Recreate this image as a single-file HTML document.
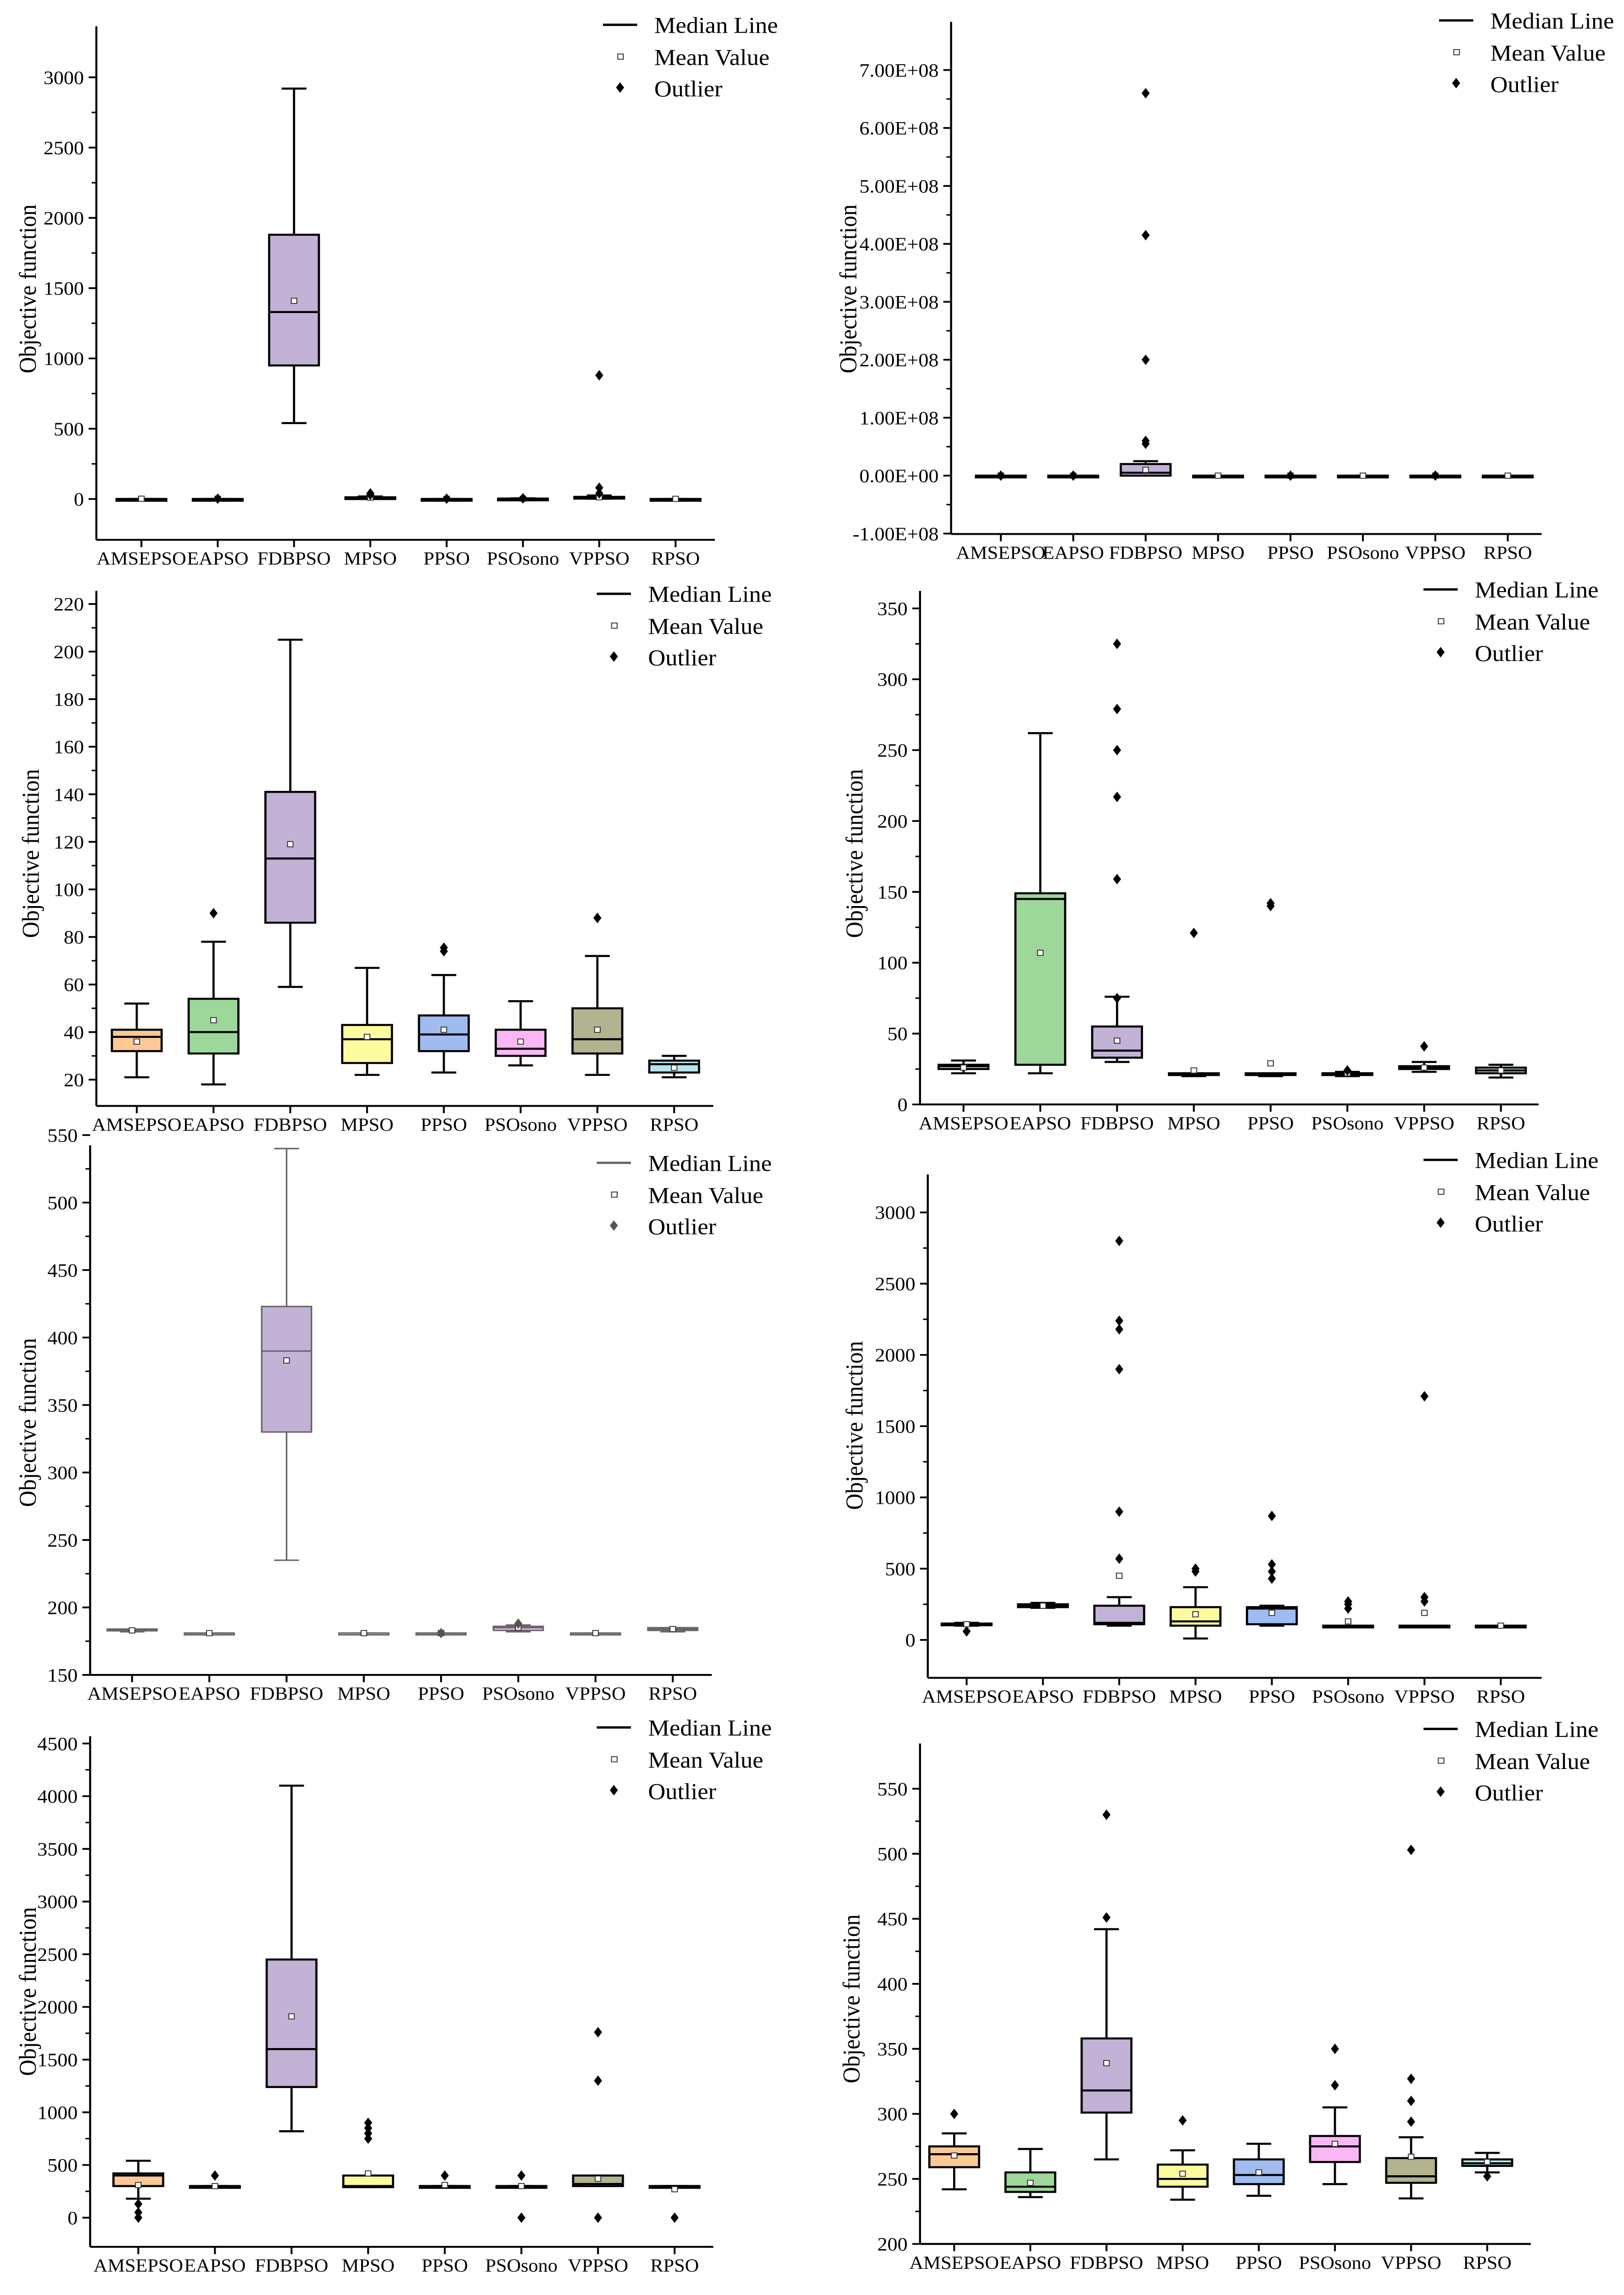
<!DOCTYPE html>
<html><head><meta charset="utf-8"><style>
html,body{margin:0;padding:0;background:#fff;width:100%;height:100%;overflow:hidden}
svg{display:block;width:100vw;height:100vh}
text{font-family:"Liberation Serif",serif;fill:#000}
</style></head><body>
<svg id="fig" xmlns="http://www.w3.org/2000/svg" viewBox="0 0 1045 1573" preserveAspectRatio="none"></svg>
<script>
const categories=["AMSEPSO","EAPSO","FDBPSO","MPSO","PPSO","PSOsono","VPPSO","RPSO"];
const colors=["#fbc896","#9dd89a","#c2b2d6","#fdfb9e","#9fbbf0","#fbb6f6","#b3b48f","#b8e4ea"];
// Panel 1
const p1_stats=[[0,0,0,0,0],[0,0,0,0,0],[540,950,1330,1880,2920],[2,5,8,12,18],[0,0,0,0,0],[0,1,2,3,5],[2,6,10,15,25],[0,0,0,0,0]];
const p1_means=[2,2,1410,10,1,2,12,1];
const p1_outliers=[[],[2],[],[30,40],[2],[5],[40,80,880],[]];
const p1_ticks=[0,500,1000,1500,2000,2500,3000];
const p1_labels=["0","500","1000","1500","2000","2500","3000"];
// Panel 2
const p2_stats=[[0,0,0,0,0],[0,0,0,0,0],[0,0,5e6,2e7,2.5e7],[0,0,0,0,0],[0,0,0,0,0],[0,0,0,0,0],[0,0,0,0,0],[0,0,0,0,0]];
const p2_means=[0,0,1e7,0,0,0,0,0];
const p2_outliers=[[0],[0],[5.5e7,6e7,2e8,4.15e8,6.6e8],[],[0],[],[0],[]];
const p2_ticks=[-1e8,0,1e8,2e8,3e8,4e8,5e8,6e8,7e8];
const p2_labels=["-1.00E+08","0.00E+00","1.00E+08","2.00E+08","3.00E+08","4.00E+08","5.00E+08","6.00E+08","7.00E+08"];
// Panel 3
const p3_stats=[[21,32,38,41,52],[18,31,40,54,78],[59,86,113,141,205],[22,27,37,43,67],[23,32,39,47,64],[26,30,33,41,53],[22,31,37,50,72],[21,23,26.5,28,30]];
const p3_means=[36,45,119,38,41,36,41,25];
const p3_outliers=[[],[90],[],[],[74,75.5],[],[88],[]];
const p3_ticks=[20,40,60,80,100,120,140,160,180,200,220];
const p3_labels=["20","40","60","80","100","120","140","160","180","200","220"];
// Panel 4
const p4_stats=[[22,25,27,28,31],[22,28,145,149,262],[30,33,38,55,76],[20,21,21,22,22],[20,21,21,22,22],[20,21,22,22,23],[23,25,26,27,30],[19,22,24,26,28]];
const p4_means=[26,107,45,24,29,22,26,24];
const p4_outliers=[[],[],[75,159,217,250,279,325],[121],[140,142],[24],[41],[]];
const p4_ticks=[0,50,100,150,200,250,300,350];
const p4_labels=["0","50","100","150","200","250","300","350"];
// Panel 5
const p5_stats=[[182,183,183,184,184],[180,180,181,181,181],[235,330,390,423,540],[180,180,181,181,181],[180,180,181,181,181],[182,183,185,186,187],[180,180,181,181,181],[182,183,184,185,185]];
const p5_means=[183,181,383,181,181,185,181,184];
const p5_outliers=[[],[],[],[],[181],[188],[],[]];
const p5_ticks=[150,200,250,300,350,400,450,500,550];
const p5_labels=["150","200","250","300","350","400","450","500","550"];
// Panel 6
const p6_stats=[[100,105,110,115,120],[225,230,240,250,260],[100,110,120,240,300],[10,100,130,230,370],[100,110,220,230,240],[100,100,100,100,100],[100,100,100,100,100],[100,100,100,100,100]];
const p6_means=[110,240,450,180,190,130,190,100];
const p6_outliers=[[60],[],[570,900,1900,2180,2240,2800],[480,500],[430,480,530,870],[220,250,270],[270,300,1710],[]];
const p6_ticks=[0,500,1000,1500,2000,2500,3000];
const p6_labels=["0","500","1000","1500","2000","2500","3000"];
// Panel 7
const p7_stats=[[180,300,400,420,540],[300,300,300,300,300],[820,1240,1600,2450,4100],[290,290,300,400,400],[300,300,300,300,300],[300,300,300,300,300],[300,300,320,400,400],[300,300,300,300,300]];
const p7_means=[310,300,1910,420,310,300,370,270];
const p7_outliers=[[0,50,130],[400],[],[750,800,850,900],[400],[0,400],[0,1300,1760],[0]];
const p7_ticks=[0,500,1000,1500,2000,2500,3000,3500,4000,4500];
const p7_labels=["0","500","1000","1500","2000","2500","3000","3500","4000","4500"];
// Panel 8
const p8_stats=[[242,259,269,275,285],[236,240,244,255,273],[265,301,318,358,442],[234,244,250,261,272],[237,246,253,265,277],[246,263,275,283,305],[235,247,252,266,282],[255,260,262,265,270]];
const p8_means=[268,247,339,254,255,277,267,263];
const p8_outliers=[[300],[],[451,530],[295],[],[322,350],[294,310,327,503],[252]];
const p8_ticks=[200,250,300,350,400,450,500,550];
const p8_labels=["200","250","300","350","400","450","500","550"];

const NS="http://www.w3.org/2000/svg";
const fig=document.getElementById('fig');
function mk(tag,attrs,parent,txt){const e=document.createElementNS(NS,tag);for(const k in attrs)e.setAttribute(k,attrs[k]);if(txt!==undefined)e.textContent=txt;parent.appendChild(e);return e;}

const panels=[
 {id:1,stats:p1_stats,means:p1_means,out:p1_outliers,ticks:p1_ticks,labels:p1_labels,ax:62,xEnd:460,yTop:18,yBot:370,v0:0,y0:342,v1:3000,y1:53,x0:91,step:49.1,lx:388,ly:17,ylx:18,yly:198,gray:false},
 {id:2,stats:p2_stats,means:p2_means,out:p2_outliers,ticks:p2_ticks,labels:p2_labels,ax:612,xEnd:992,yTop:15,yBot:366,v0:0,y0:326,v1:7e8,y1:48,x0:644,step:46.6,lx:926,ly:14,ylx:546,yly:198,gray:false},
 {id:3,stats:p3_stats,means:p3_means,out:p3_outliers,ticks:p3_ticks,labels:p3_labels,ax:62,xEnd:459,yTop:405,yBot:758,v0:20,y0:740,v1:220,y1:414,x0:88,step:49.4,lx:384,ly:407,ylx:20,yly:585,gray:false},
 {id:4,stats:p4_stats,means:p4_means,out:p4_outliers,ticks:p4_ticks,labels:p4_labels,ax:592,xEnd:990,yTop:405,yBot:757,v0:0,y0:757,v1:350,y1:417,x0:620,step:49.4,lx:916,ly:404,ylx:550,yly:585,gray:false},
 {id:5,stats:p5_stats,means:p5_means,out:p5_outliers,ticks:p5_ticks,labels:p5_labels,ax:58,xEnd:458,yTop:785,yBot:1148,v0:150,y0:1148,v1:550,y1:778,x0:85,step:49.7,lx:384,ly:797,ylx:18,yly:975,gray:true},
 {id:6,stats:p6_stats,means:p6_means,out:p6_outliers,ticks:p6_ticks,labels:p6_labels,ax:597,xEnd:992,yTop:805,yBot:1150,v0:0,y0:1124,v1:3000,y1:831,x0:622,step:49.1,lx:916,ly:795,ylx:550,yly:977,gray:false},
 {id:7,stats:p7_stats,means:p7_means,out:p7_outliers,ticks:p7_ticks,labels:p7_labels,ax:58,xEnd:459,yTop:1190,yBot:1540,v0:0,y0:1520,v1:4500,y1:1195,x0:89,step:49.3,lx:384,ly:1184,ylx:18,yly:1365,gray:false},
 {id:8,stats:p8_stats,means:p8_means,out:p8_outliers,ticks:p8_ticks,labels:p8_labels,ax:592,xEnd:985,yTop:1195,yBot:1538,v0:200,y0:1538,v1:550,y1:1226,x0:614,step:49,lx:916,ly:1185,ylx:548,yly:1370,gray:false}
];

panels.forEach(p=>{
 const g=mk('g',{},fig);
 
 
 const Y=v=>p.y0+(v-p.v0)*(p.y1-p.y0)/(p.v1-p.v0);
 const X=i=>p.x0+i*p.step;
 const lc=p.gray?'#666':'#000';
 const sw=p.gray?1:1.4;
 const ya=mk('line',{x1:p.ax,y1:p.yTop,x2:p.ax,y2:p.yBot,stroke:'#000','stroke-width':1.3},g);
 
 
 const xa=mk('line',{x1:p.ax,y1:p.yBot,x2:p.xEnd,y2:p.yBot,stroke:'#000','stroke-width':1.3},g);
 
 
 p.ticks.forEach((t,i)=>{
  const y=Y(t);
  mk('line',{x1:p.ax-5,y1:y,x2:p.ax,y2:y,stroke:'#000','stroke-width':1.2},g);
  const tl=mk('text',{x:p.ax-8,y:y+4.5,'text-anchor':'end','font-size':13},g,p.labels[i]);
  
  
  if(i<p.ticks.length-1){const ym=Y((t+p.ticks[i+1])/2);mk('line',{x1:p.ax-3,y1:ym,x2:p.ax,y2:ym,stroke:'#000','stroke-width':1},g);}
 });
 const yt=mk('text',{x:p.ylx,y:p.yly,'text-anchor':'middle','font-size':15.5,transform:`rotate(-90 ${p.ylx} ${p.yly})`,dy:5},g,'Objective function');
 
 
 categories.forEach((c,i)=>{
  const x=X(i);
  mk('line',{x1:x,y1:p.yBot,x2:x,y2:p.yBot+5,stroke:'#000','stroke-width':1.2},g);
  const cl=mk('text',{x:x,y:p.yBot+17,'text-anchor':'middle','font-size':12.5},g,c);
  
  
  const s=p.stats[i];const bw=32,cw=16;
  const bg=mk('g',{},g);
  
  
  mk('line',{x1:x,y1:Y(s[0]),x2:x,y2:Y(s[4]),stroke:lc,'stroke-width':sw},bg);
  mk('line',{x1:x-cw/2,y1:Y(s[0]),x2:x+cw/2,y2:Y(s[0]),stroke:lc,'stroke-width':sw},bg);
  mk('line',{x1:x-cw/2,y1:Y(s[4]),x2:x+cw/2,y2:Y(s[4]),stroke:lc,'stroke-width':sw},bg);
  const top=Y(s[3]),bot=Y(s[1]);
  mk('rect',{x:x-bw/2,y:top,width:bw,height:Math.max(bot-top,1.2),fill:colors[i],stroke:lc,'stroke-width':sw},bg);
  mk('line',{x1:x-bw/2,y1:Y(s[2]),x2:x+bw/2,y2:Y(s[2]),stroke:lc,'stroke-width':sw},bg);
  const my=Y(p.means[i]);
  const mm=mk('rect',{x:x-1.8,y:my-1.8,width:3.6,height:3.6,fill:'#fff',stroke:'#333','stroke-width':0.6},bg);
  
  
  p.out[i].forEach(o=>{const oy=Y(o);
   const d=mk('path',{d:`M${x} ${oy-3.6}L${x+2.6} ${oy}L${x} ${oy+3.6}L${x-2.6} ${oy}Z`,fill:p.gray?'#555':'#000'},bg);
   
   
  });
 });
 const lg=mk('g',{},g);
 
 
 mk('line',{x1:p.lx,y1:p.ly,x2:p.lx+22,y2:p.ly,stroke:lc,'stroke-width':1.6},lg);
 const t1=mk('text',{x:p.lx+33,y:p.ly+5.5,'font-size':15.5},lg,'Median Line');
 
 
 mk('rect',{x:p.lx+9.5,y:p.ly+20,width:3.6,height:3.6,fill:'#fff',stroke:'#333','stroke-width':0.6},lg);
 const t2=mk('text',{x:p.lx+33,y:p.ly+27.5,'font-size':15.5},lg,'Mean Value');
 
 
 const dx=p.lx+11,dy=p.ly+43;
 mk('path',{d:`M${dx} ${dy-3.6}L${dx+2.6} ${dy}L${dx} ${dy+3.6}L${dx-2.6} ${dy}Z`,fill:p.gray?'#555':'#000'},lg);
 const t3=mk('text',{x:p.lx+33,y:p.ly+49,'font-size':15.5},lg,'Outlier');
 
 
});
</script>
</body></html>
